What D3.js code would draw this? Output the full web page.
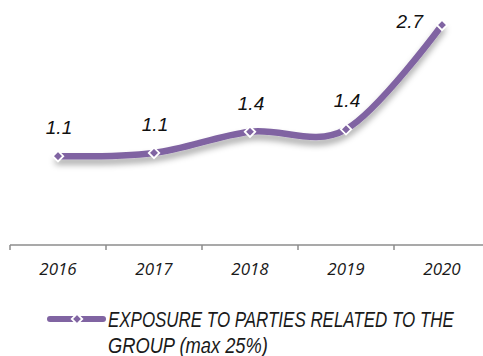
<!DOCTYPE html>
<html>
<head>
<meta charset="utf-8">
<script src="https://cdn.jsdelivr.net/npm/d3@7"></script>
<style>
  html, body { margin: 0; padding: 0; background: #fff; }
  svg { display: block; }
</style>
</head>
<body>
<svg id="chart" width="483" height="356"></svg>
<script>
// Exposure to parties related to the group, by year
const years = ["2016", "2017", "2018", "2019", "2020"];
const exposure = [1.09, 1.13, 1.39, 1.42, 2.70];
const seriesName = ["EXPOSURE TO PARTIES RELATED TO THE", "GROUP (max 25%)"];

const purple = "#8064a2";
const svg = d3.select("#chart");

const x = d3.scaleBand().domain(years).range([10, 490]).padding(0);
const y = d3.scaleLinear().domain([0, 2.7]).range([245, 25]);
const cx = d => x(d) + x.bandwidth() / 2;

// soft shadow under the line
const defs = svg.append("defs");
const f = defs.append("filter").attr("id", "shadow")
  .attr("x", "-10%").attr("y", "-20%").attr("width", "120%").attr("height", "160%");
f.append("feDropShadow").attr("dx", 0).attr("dy", 5).attr("stdDeviation", 3)
  .attr("flood-color", "#000").attr("flood-opacity", 0.35);

// category axis along the baseline
const axisG = svg.append("g").attr("stroke", "#8c8c8c").attr("stroke-width", 1.5);
axisG.append("line").attr("x1", x.range()[0]).attr("x2", 483)
  .attr("y1", y(0)).attr("y2", y(0));
axisG.selectAll("line.tick").data(years).join("line").attr("class", "tick")
  .attr("x1", d => x(d)).attr("x2", d => x(d))
  .attr("y1", y(0)).attr("y2", y(0) + 5);

svg.append("g").selectAll("text").data(years).join("text")
  .attr("x", d => cx(d)).attr("y", 275)
  .attr("text-anchor", "middle")
  .attr("font-family", "'Open Sans', sans-serif")
  .attr("font-style", "italic").attr("font-size", 17).attr("fill", "#1a1a1a")
  .text(d => d);

// smoothed series line
const pts = years.map((yr, i) => ({ yr, v: exposure[i] }));
const line = d3.line().x(d => cx(d.yr)).y(d => y(d.v)).curve(d3.curveCardinal.tension(0));

svg.append("path").datum(pts)
  .attr("d", line).attr("fill", "none")
  .attr("stroke", purple).attr("stroke-width", 6.5).attr("stroke-linecap", "round")
  .attr("filter", "url(#shadow)");

const diamond = d3.symbol().type(d3.symbolDiamond2).size(70);
svg.append("g").selectAll("path").data(pts).join("path")
  .attr("transform", d => `translate(${cx(d.yr)},${y(d.v)})`)
  .attr("d", diamond)
  .attr("fill", purple).attr("stroke", "#fff").attr("stroke-width", 1.8);

// value labels; the last one sits to the left of its point
const fmt = d3.format(".1f");
const last = pts.length - 1;
svg.append("g").selectAll("text").data(pts).join("text")
  .attr("x", (d, i) => i === last ? cx(d.yr) - 19 : cx(d.yr) + 1)
  .attr("y", (d, i) => i === last ? y(d.v) + 3 : y(d.v) - 22)
  .attr("text-anchor", (d, i) => i === last ? "end" : "middle")
  .attr("font-family", "'Liberation Sans', Arial, sans-serif")
  .attr("font-style", "italic").attr("font-size", 19).attr("fill", "#111")
  .text(d => fmt(d.v));

// legend: line + marker, then a condensed two-line label
const lg = svg.append("g");
lg.append("line").attr("x1", 50).attr("x2", 103).attr("y1", 319).attr("y2", 319)
  .attr("stroke", purple).attr("stroke-width", 6).attr("stroke-linecap", "round");
lg.append("path").attr("transform", "translate(77,319)").attr("d", diamond)
  .attr("fill", purple).attr("stroke", "#fff").attr("stroke-width", 1.8);
const legendWidths = [346, 160];
lg.selectAll("text").data(seriesName).join("text")
  .attr("x", 0).attr("y", 0)
  .attr("font-family", "'Liberation Sans', Arial, sans-serif")
  .attr("font-style", "italic").attr("font-size", 22).attr("fill", "#1a1a1a")
  .text(d => d)
  .attr("transform", function (d, i) {
    const sx = legendWidths[i] / this.getComputedTextLength();
    return `translate(108,${327 + i * 26}) scale(${sx},1)`;
  });
</script>
</body>
</html>
